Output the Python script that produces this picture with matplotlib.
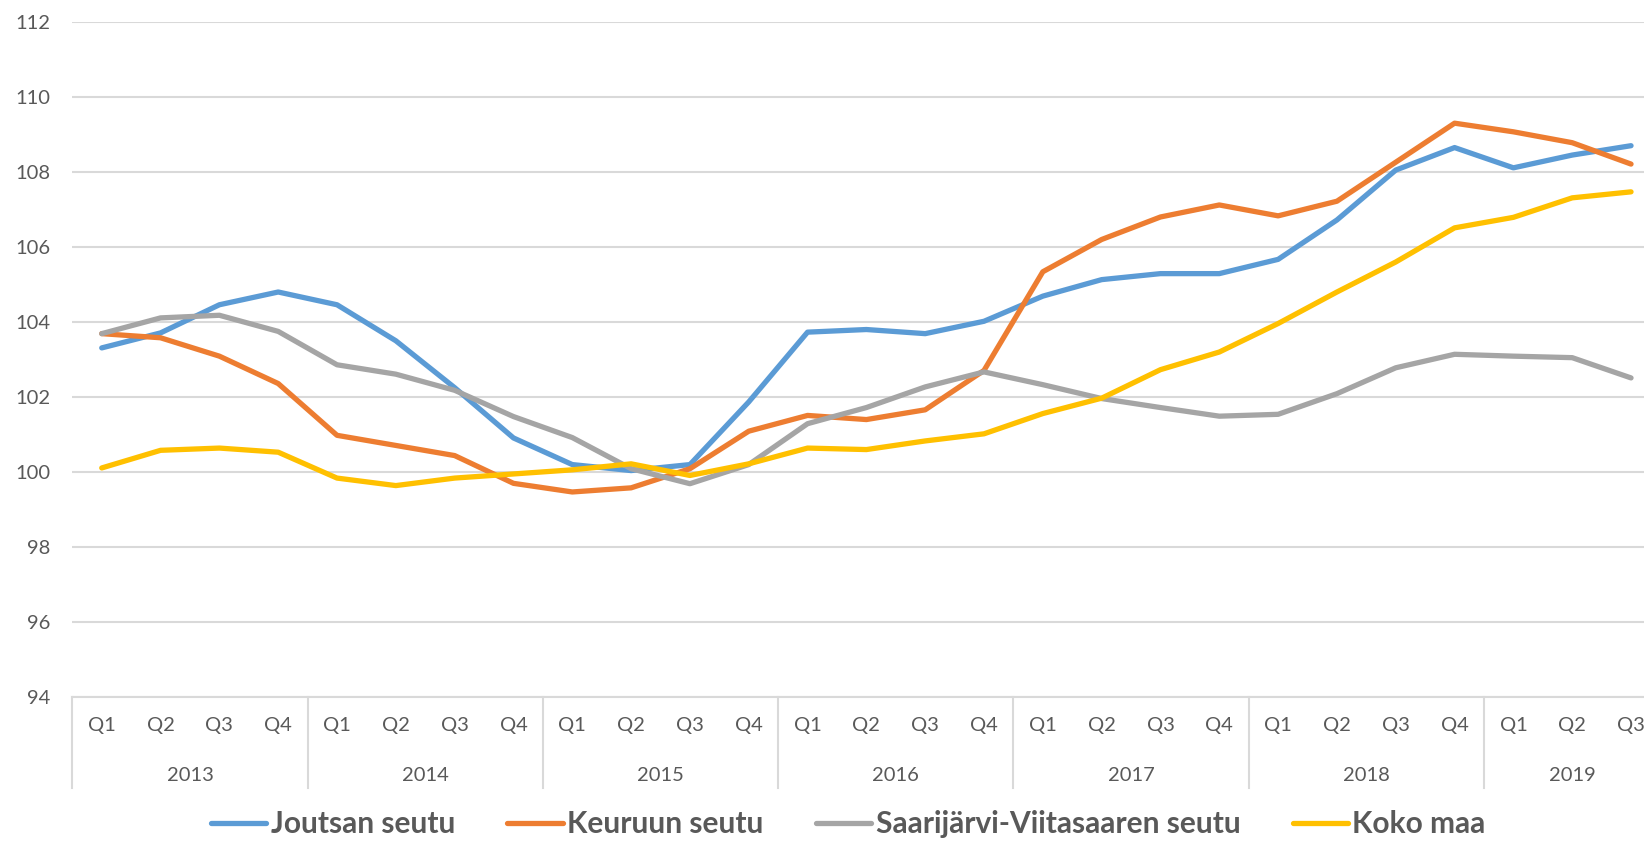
import matplotlib
matplotlib.use("Agg")
import matplotlib.pyplot as plt
import matplotlib.transforms as mtransforms

# Quarterly index values, 2013 Q1 .. 2019 Q3
years = ["2013", "2014", "2015", "2016", "2017", "2018", "2019"]
quarters = ["Q1", "Q2", "Q3", "Q4"]
n_points = 27

joutsan = [103.31, 103.71, 104.46, 104.80, 104.46, 103.50, 102.25, 100.91,
           100.20, 100.04, 100.20, 101.87, 103.73, 103.80, 103.69, 104.02,
           104.69, 105.13, 105.29, 105.29, 105.67, 106.72, 108.05, 108.65,
           108.11, 108.45, 108.70]
keuruu = [103.69, 103.58, 103.09, 102.36, 100.98, 100.71, 100.44, 99.70,
          99.47, 99.58, 100.09, 101.09, 101.51, 101.40, 101.66, 102.71,
          105.34, 106.20, 106.80, 107.12, 106.83, 107.22, 108.26, 109.30,
          109.07, 108.78, 108.21]
saarijarvi = [103.69, 104.11, 104.18, 103.75, 102.86, 102.61, 102.18, 101.48,
              100.92, 100.09, 99.69, 100.20, 101.29, 101.72, 102.27, 102.67,
              102.33, 101.96, 101.72, 101.49, 101.54, 102.09, 102.78, 103.14,
              103.09, 103.05, 102.51]
koko_maa = [100.11, 100.58, 100.64, 100.53, 99.84, 99.64, 99.84, 99.95,
            100.06, 100.22, 99.91, 100.22, 100.64, 100.60, 100.83, 101.02,
            101.56, 101.97, 102.73, 103.20, 103.96, 104.80, 105.60, 106.51,
            106.79, 107.31, 107.47]

series = [
    ("Joutsan seutu", joutsan, "#5B9BD5"),
    ("Keuruun seutu", keuruu, "#ED7D31"),
    ("Saarijärvi-Viitasaaren seutu", saarijarvi, "#A5A5A5"),
    ("Koko maa", koko_maa, "#FFC000"),
]

plt.rcParams["font.family"] = ["Lato", "DejaVu Sans"]
text_color = "#595959"
grid_color = "#D9D9D9"

fig = plt.figure(figsize=(16.44, 8.42), dpi=100)
ax = fig.add_axes([0.044, 0.172, 0.966, 0.802])

x = list(range(n_points))
for name, vals, color in series:
    ax.plot(x, vals, color=color, linewidth=3.8, label=name,
            solid_capstyle="round", solid_joinstyle="round")

ax.set_ylim(94, 112)
ax.set_yticks(range(94, 113, 2))
ax.set_xlim(-0.5, n_points - 0.5)
ax.grid(True, axis="y", color=grid_color, linewidth=1.5)
ax.set_axisbelow(True)
for s in ["top", "right", "left"]:
    ax.spines[s].set_visible(False)
ax.spines["bottom"].set_color(grid_color)
ax.spines["bottom"].set_linewidth(1.5)
ax.tick_params(axis="y", length=0, pad=16, labelsize=14.5, labelcolor=text_color)
ax.set_xticks([])

# two-level category axis
trans = mtransforms.blended_transform_factory(ax.transData, ax.transAxes)
for i in range(n_points):
    ax.text(i, -0.042, quarters[i % 4], transform=trans, ha="center",
            va="center", fontsize=14.5, color=text_color, clip_on=False)
for k, yr in enumerate(years):
    start = 4 * k
    end = min(4 * k + 3, n_points - 1)
    ax.text((start + end) / 2, -0.1156, yr, transform=trans, ha="center",
            va="center", fontsize=14.5, color=text_color, clip_on=False)
for b in range(0, n_points, 4):
    ax.plot([b - 0.5, b - 0.5], [0, -0.135], transform=trans, color=grid_color,
            linewidth=1.5, clip_on=False)

leg = fig.legend(loc="center", bbox_to_anchor=(0.516, 0.021), ncol=4,
                 frameon=False, handlelength=1.85, handletextpad=0.15,
                 columnspacing=1.75, borderpad=0.1,
                 prop={"weight": "bold", "size": 21.5})
for t in leg.get_texts():
    t.set_color(text_color)

fig.savefig("out.png", dpi=100)
